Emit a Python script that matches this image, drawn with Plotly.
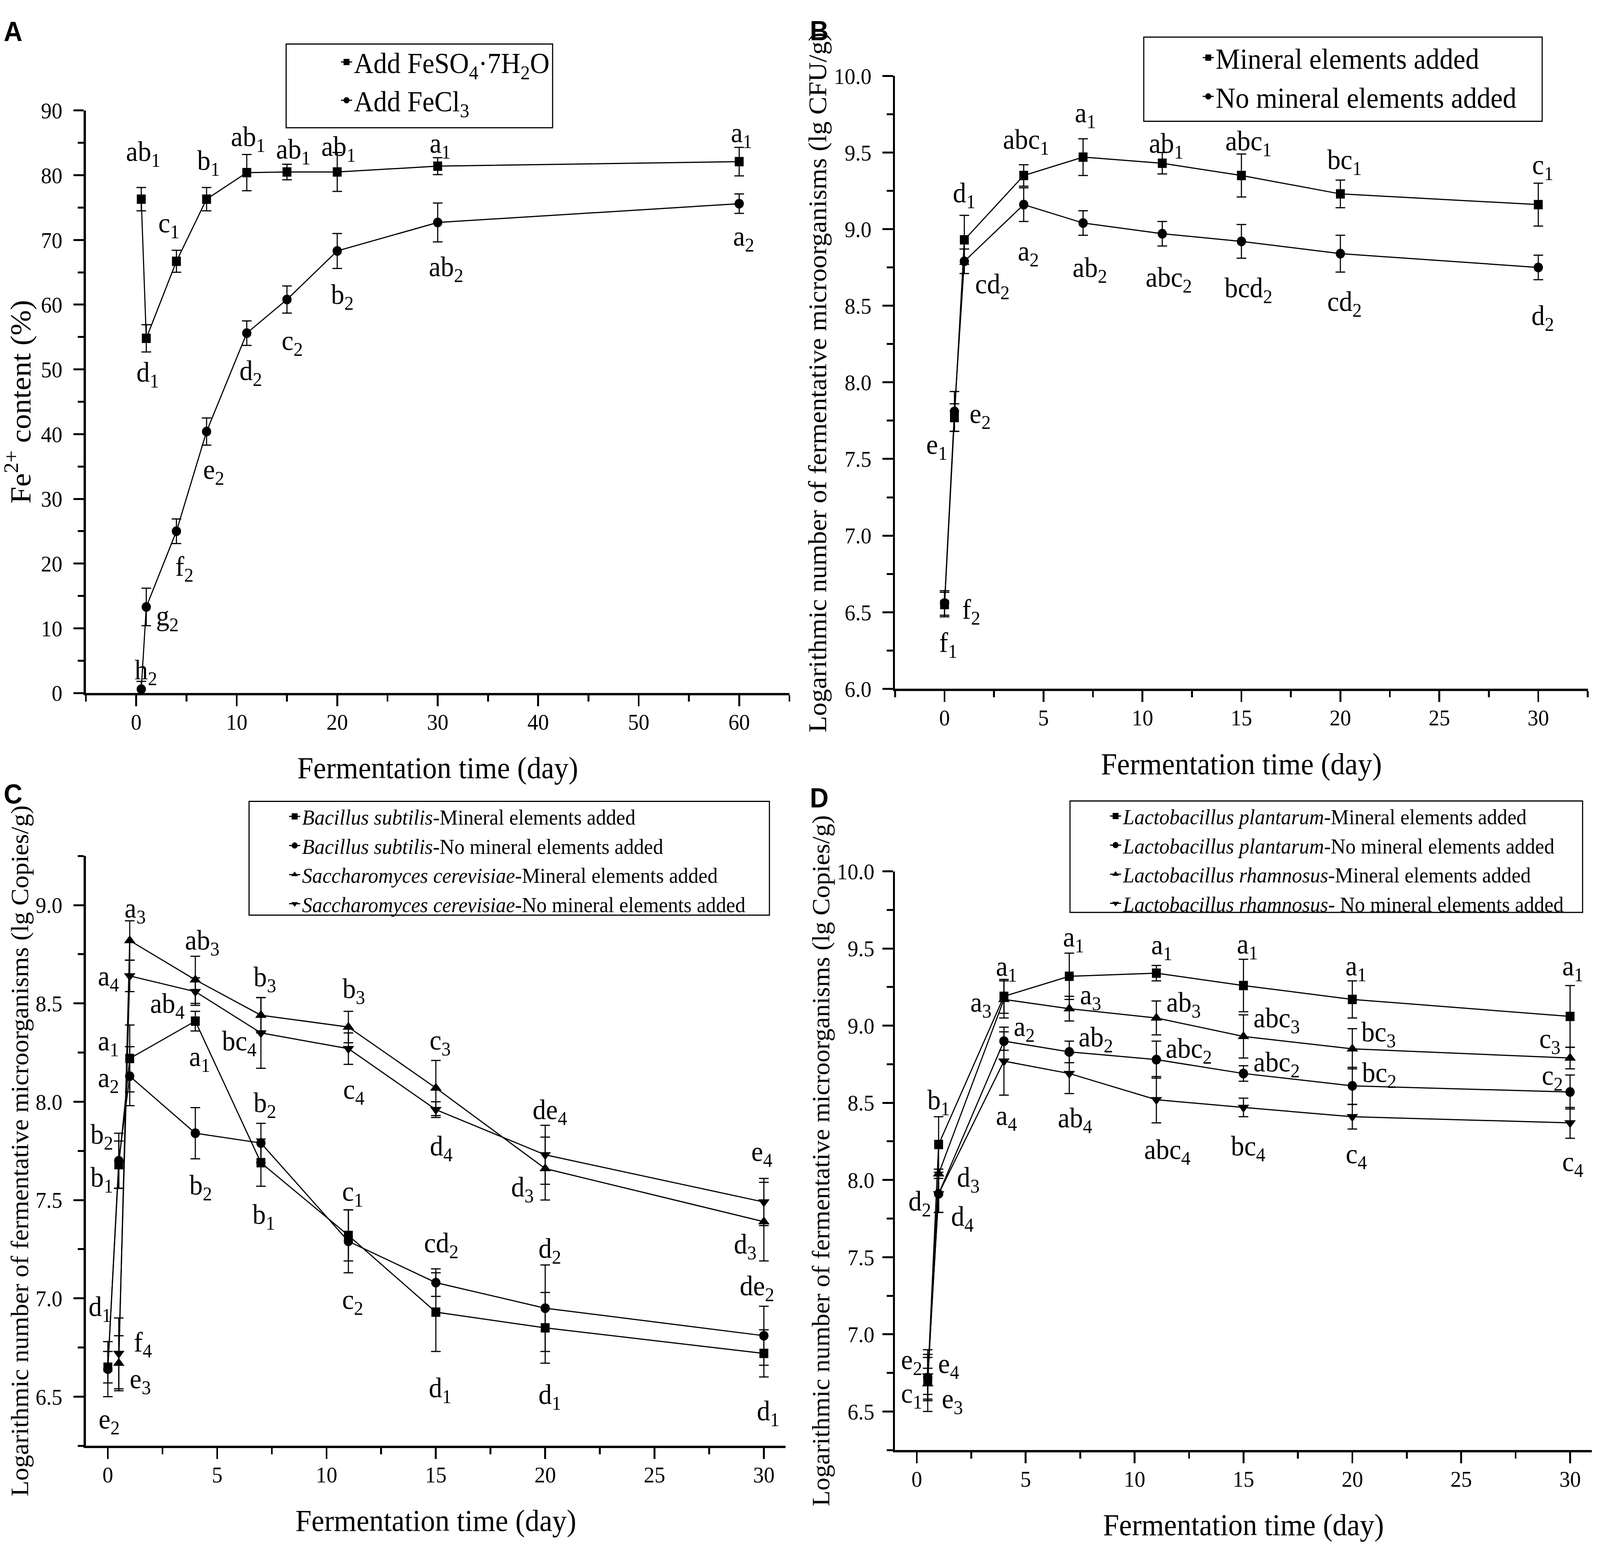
import plotly.graph_objects as go

W, H = 4317, 3991
SERIF = "Liberation Serif"

# ---------------- Panel A : Fe2+ content ----------------
a_days = [0.5, 1, 4, 7, 11, 15, 20, 30, 60]
a_feso4 = [76.3, 54.8, 66.7, 76.3, 80.4, 80.5, 80.5, 81.4, 82.1]
a_feso4_err = [1.8, 2.1, 1.7, 1.8, 2.8, 1.2, 3.0, 1.3, 2.2]
a_feso4_lab = ["ab1", "d1", "c1", "b1", "ab1", "ab1", "ab1", "a1", "a1"]
a_fecl3 = [0.6, 13.3, 25.0, 40.4, 55.6, 60.8, 68.3, 72.7, 75.6]
a_fecl3_err = [1.2, 2.9, 1.9, 2.1, 1.9, 2.1, 2.7, 3.0, 1.5]
a_fecl3_lab = ["h2", "g2", "f2", "e2", "d2", "c2", "b2", "ab2", "a2"]

# ---------------- Panel B : total microorganisms ----------------
b_days = [0, 0.5, 1, 4, 7, 11, 15, 20, 30]
b_min = [6.55, 7.77, 8.93, 9.35, 9.47, 9.43, 9.35, 9.23, 9.16]
b_min_err = [0.08, 0.09, 0.16, 0.07, 0.12, 0.07, 0.14, 0.09, 0.14]
b_min_lab = ["f1", "e1", "d1", "abc1", "a1", "ab1", "abc1", "bc1", "c1"]
b_nomin = [6.56, 7.81, 8.79, 9.16, 9.04, 8.97, 8.92, 8.84, 8.75]
b_nomin_err = [0.08, 0.13, 0.08, 0.11, 0.08, 0.08, 0.11, 0.12, 0.08]
b_nomin_lab = ["f2", "e2", "cd2", "a2", "ab2", "abc2", "bcd2", "cd2", "d2"]

# ---------------- Panel C : B. subtilis / S. cerevisiae ----------------
c_days_bs = [0, 0.5, 1, 4, 7, 11, 15, 20, 30]
c_bs_min = [6.65, 7.68, 8.22, 8.41, 7.69, 7.32, 6.93, 6.85, 6.72]
c_bs_min_err = [0.08, 0.12, 0.17, 0.05, 0.12, 0.13, 0.20, 0.18, 0.12]
c_bs_min_lab = ["d1", "b1", "a1", "a1", "b1", "c1", "d1", "d1", "d1"]
c_bs_nomin = [6.64, 7.70, 8.13, 7.84, 7.79, 7.29, 7.08, 6.95, 6.81]
c_bs_nomin_err = [0.14, 0.14, 0.15, 0.13, 0.10, 0.16, 0.07, 0.22, 0.15]
c_bs_nomin_lab = ["e2", "b2", "a2", "b2", "b2", "c2", "cd2", "d2", "de2"]
c_days_sc = [0.5, 1, 4, 7, 11, 15, 20, 30]
c_sc_min = [6.67, 8.82, 8.62, 8.44, 8.38, 8.07, 7.66, 7.39]
c_sc_min_err = [0.14, 0.10, 0.12, 0.09, 0.08, 0.14, 0.16, 0.20]
c_sc_min_lab = ["e3", "a3", "ab3", "b3", "b3", "c3", "d3", "d3"]
c_sc_nomin = [6.72, 8.64, 8.56, 8.35, 8.27, 7.96, 7.73, 7.49]
c_sc_nomin_err = [0.18, 0.08, 0.07, 0.18, 0.08, 0.04, 0.15, 0.12]
c_sc_nomin_lab = ["f4", "a4", "ab4", "bc4", "c4", "d4", "de4", "e4"]

# ---------------- Panel D : L. plantarum / L. rhamnosus ----------------
d_days = [0.5, 1, 4, 7, 11, 15, 20, 30]
d_lp_min = [6.70, 8.23, 9.19, 9.32, 9.34, 9.26, 9.17, 9.06]
d_lp_min_err = [0.20, 0.18, 0.11, 0.15, 0.05, 0.17, 0.12, 0.20]
d_lp_min_lab = ["c1", "b1", "a1", "a1", "a1", "a1", "a1", "a1"]
d_lp_nomin = [6.72, 7.91, 8.90, 8.83, 8.78, 8.69, 8.61, 8.57]
d_lp_nomin_err = [0.15, 0.12, 0.06, 0.07, 0.12, 0.05, 0.12, 0.11]
d_lp_nomin_lab = ["e2", "d2", "a2", "ab2", "abc2", "abc2", "bc2", "c2"]
d_lr_min = [6.68, 8.04, 9.17, 9.11, 9.05, 8.93, 8.85, 8.79]
d_lr_min_err = [0.10, 0.03, 0.12, 0.08, 0.11, 0.14, 0.13, 0.07]
d_lr_min_lab = ["e3", "d3", "a3", "a3", "ab3", "abc3", "bc3", "c3"]
d_lr_nomin = [6.73, 7.91, 8.77, 8.69, 8.52, 8.47, 8.41, 8.37]
d_lr_nomin_err = [0.12, 0.12, 0.22, 0.13, 0.15, 0.06, 0.08, 0.10]
d_lr_nomin_lab = ["e4", "d4", "a4", "ab4", "abc4", "bc4", "c4", "c4"]

# ---------------- label offsets (pixels: dx right, dy down) ----------------
OFF_A_FESO4 = [(5, -117), (4, 92), (-21, -93), (5, -94), (4, -87), (17, -53), (4, -60), (6, -53), (6, -69)]
OFF_A_FECL3 = [(12, -44), (57, 28), (21, 95), (19, 102), (11, 101), (14, 110), (14, 117), (22, 118), (12, 89)]
OFF_B_MIN = [(10, 102), (-48, 74), (0, -115), (6, -87), (6, -108), (11, -46), (19, -83), (11, -82), (12, -97)]
OFF_B_NOMIN = [(72, 21), (69, 11), (76, 63), (12, 124), (18, 119), (18, 117), (19, 124), (11, 128), (12, 128)]
OFF_C_BS_MIN = [(-22, -150), (-46, 38), (-58, -40), (11, 96), (7, 138), (11, -108), (11, 199), (12, 176), (11, 152)]
OFF_C_BS_NOMIN = [(3, 133), (-46, -62), (-58, 9), (14, 138), (10, -98), (11, 154), (14, -96), (12, -148), (-19, -122)]
OFF_C_SC_MIN = [(58, 45), (14, -78), (18, -96), (10, -93), (14, -93), (11, -117), (-62, 52), (-51, 63)]
OFF_C_SC_NOMIN = [(65, -24), (-58, 6), (-76, 35), (-59, 26), (14, 109), (14, 98), (12, -110), (-6, -124)]
OFF_D_LP_MIN = [(-44, 38), (0, -109), (7, -72), (11, -95), (14, -67), (10, -101), (10, -80), (7, -124)]
OFF_D_LP_NOMIN = [(-44, -40), (-51, 24), (55, -32), (71, -33), (87, -24), (89, -24), (73, -29), (-48, -38)]
OFF_D_LR_MIN = [(66, 44), (80, 14), (-62, 13), (57, -30), (73, -35), (89, -42), (71, -38), (-55, -45)]
OFF_D_LR_NOMIN = [(56, -26), (64, 63), (7, 144), (15, 119), (29, 133), (12, 104), (11, 100), (7, 104)]


def sub_label(s):
    i = len(s)
    while i > 0 and s[i - 1].isdigit():
        i -= 1
    return f"{s[:i]}<sub>{s[i:]}</sub>"


def px(x, y):
    return x / W, 1 - y / H


fig = go.Figure()
annotations = []

SYMBOL_SIZE = {"square": 24, "circle": 25, "triangle-up": 27, "triangle-down": 27}


def add_series(name, xs, ys, errs, labels, offsets, symbol, xa, ya, legend):
    fig.add_trace(go.Scatter(
        x=xs, y=ys, name=name, mode="lines+markers",
        xaxis=xa, yaxis=ya, legend=legend,
        line=dict(color="black", width=3),
        marker=dict(symbol=symbol, size=SYMBOL_SIZE[symbol], color="black"),
        error_y=dict(type="data", array=errs, visible=True, color="black", thickness=3, width=13),
        cliponaxis=False,
    ))
    for xv, yv, lab, (dx, dy) in zip(xs, ys, labels, offsets):
        annotations.append(dict(
            x=xv, y=yv, xref=xa, yref=ya, text=sub_label(lab), showarrow=False,
            xanchor="center", yanchor="middle",
            xshift=dx, yshift=-dy, font=dict(family=SERIF, size=72, color="black"),
        ))


# Panel A
add_series("Add FeSO<sub>4</sub>·7H<sub>2</sub>O", a_days, a_feso4, a_feso4_err, a_feso4_lab, OFF_A_FESO4, "square", "x", "y", "legend")
add_series("Add FeCl<sub>3</sub>", a_days, a_fecl3, a_fecl3_err, a_fecl3_lab, OFF_A_FECL3, "circle", "x", "y", "legend")
# Panel B
add_series("Mineral elements added", b_days, b_min, b_min_err, b_min_lab, OFF_B_MIN, "square", "x2", "y2", "legend2")
add_series("No mineral elements added", b_days, b_nomin, b_nomin_err, b_nomin_lab, OFF_B_NOMIN, "circle", "x2", "y2", "legend2")
# Panel C
add_series("<i>Bacillus subtilis</i>-Mineral elements added", c_days_bs, c_bs_min, c_bs_min_err, c_bs_min_lab, OFF_C_BS_MIN, "square", "x3", "y3", "legend3")
add_series("<i>Bacillus subtilis</i>-No mineral elements added", c_days_bs, c_bs_nomin, c_bs_nomin_err, c_bs_nomin_lab, OFF_C_BS_NOMIN, "circle", "x3", "y3", "legend3")
add_series("<i>Saccharomyces cerevisiae</i>-Mineral elements added", c_days_sc, c_sc_min, c_sc_min_err, c_sc_min_lab, OFF_C_SC_MIN, "triangle-up", "x3", "y3", "legend3")
add_series("<i>Saccharomyces cerevisiae</i>-No mineral elements added", c_days_sc, c_sc_nomin, c_sc_nomin_err, c_sc_nomin_lab, OFF_C_SC_NOMIN, "triangle-down", "x3", "y3", "legend3")
# Panel D
add_series("<i>Lactobacillus plantarum</i>-Mineral elements added", d_days, d_lp_min, d_lp_min_err, d_lp_min_lab, OFF_D_LP_MIN, "square", "x4", "y4", "legend4")
add_series("<i>Lactobacillus plantarum</i>-No mineral elements added", d_days, d_lp_nomin, d_lp_nomin_err, d_lp_nomin_lab, OFF_D_LP_NOMIN, "circle", "x4", "y4", "legend4")
add_series("<i>Lactobacillus rhamnosus</i>-Mineral elements added", d_days, d_lr_min, d_lr_min_err, d_lr_min_lab, OFF_D_LR_MIN, "triangle-up", "x4", "y4", "legend4")
add_series("<i>Lactobacillus rhamnosus</i>- No mineral elements added", d_days, d_lr_nomin, d_lr_nomin_err, d_lr_nomin_lab, OFF_D_LR_NOMIN, "triangle-down", "x4", "y4", "legend4")


def axis(domain, rng, dtick, minor_dtick, anchor, title, title_size, standoff, fmt=None, lab_standoff=0):
    d = dict(
        domain=domain, range=rng, anchor=anchor, autorange=False,
        showline=True, linecolor="black", linewidth=6, mirror=False,
        ticks="outside", ticklen=28, tickwidth=5, tickcolor="black",
        tick0=0, dtick=dtick, showgrid=False, zeroline=False,
        tickfont=dict(family=SERIF, size=58, color="black"),
        ticklabelstandoff=lab_standoff,
        minor=dict(ticks="outside", ticklen=16, tickwidth=5, tickcolor="black",
                   tick0=0, dtick=minor_dtick, showgrid=False),
        title=dict(text=title, font=dict(family=SERIF, size=title_size, color="black"), standoff=standoff),
    )
    if fmt:
        d["tickformat"] = fmt
    return d


XT = "Fermentation time (day)"
YT_B = "Logarithmic number of fermentative microorganisms (lg CFU/g)"
YT_CD = "Logarithmic number of fermentative microorganisms (lg Copies/g)"

XS = -10   # x tick label standoff
XTS = 60   # x title standoff

layout = dict(
    width=W, height=H, margin=dict(l=0, r=0, t=0, b=0),
    paper_bgcolor="white", plot_bgcolor="white", showlegend=True,
    xaxis=axis([232 / W, 2130 / W], [-5, 65], 10, 5, "y", XT, 78, XTS, lab_standoff=XS),
    yaxis=axis([1 - 1771 / H, 1 - 255 / H], [0, 90], 10, 5, "x", "Fe<sup>2+</sup> content (%)", 78, 22, lab_standoff=18),
    xaxis2=axis([2415 / W, 4284 / W], [-2.5, 32.5], 5, 2.5, "y2", XT, 78, XTS, lab_standoff=XS),
    yaxis2=axis([1 - 1760 / H, 1 - 165 / H], [6.0, 10.0], 0.5, 0.25, "x2", YT_B, 69, 0, ".1f", lab_standoff=18),
    xaxis3=axis([232 / W, 2120 / W], [-1, 31], 5, 2.5, "y3", XT, 78, XTS, lab_standoff=XS),
    yaxis3=axis([1 - 3730 / H, 1 - 2195 / H], [6.25, 9.25], 0.5, 0.25, "x3", YT_CD, 66, 0, ".1f", lab_standoff=18),
    xaxis4=axis([2415 / W, 4295 / W], [-1, 31], 5, 2.5, "y4", XT, 78, XTS, lab_standoff=XS),
    yaxis4=axis([1 - 3741 / H, 1 - 2235 / H], [6.25, 10.0], 0.5, 0.25, "x4", YT_CD, 66, 0, ".1f", lab_standoff=10),
)


def legend_at(x_px, y_px, size):
    lx, ly = px(x_px, y_px)
    return dict(x=lx, y=ly, xanchor="left", yanchor="top", bgcolor="rgba(0,0,0,0)",
                borderwidth=0, font=dict(family=SERIF, size=size, color="black"),
                tracegroupgap=0)


layout["legend"] = legend_at(915, 74, 73)
layout["legend2"] = legend_at(3240, 62, 74)
layout["legend3"] = legend_at(775, 2049, 55)
layout["legend4"] = legend_at(2990, 2048, 55)

# legend frames
shapes = []
for (x0, y0, x1, y1) in [(772, 82, 1491, 300), (3086, 64, 4161, 283), (672, 2053, 2076, 2349), (2887, 2052, 4270, 2342)]:
    px0, py0 = px(x0, y0)
    px1, py1 = px(x1, y1)
    shapes.append(dict(type="rect", xref="paper", yref="paper", x0=px0, y0=py1, x1=px1, y1=py0,
                       line=dict(color="black", width=3), fillcolor="rgba(0,0,0,0)", layer="below"))
layout["shapes"] = shapes

# panel letters
for letter, (cx, cy) in zip(["A", "B", "C", "D"], [(35, 50), (2210, 48), (35, 2034), (2210, 2044)]):
    lx, ly = px(cx, cy)
    annotations.append(dict(x=lx, y=ly, xref="paper", yref="paper", text=f"<b>{letter}</b>", showarrow=False,
                            xanchor="center", yanchor="middle",
                            font=dict(family="Liberation Sans", size=70, color="black")))

layout["annotations"] = annotations
fig.update_layout(**layout)

# Fit the fixed-size figure to whatever viewport the page is shown in.
FIT_SCRIPT = """
(function(){
  var gd = document.getElementById('{plot_id}');
  function fit(){
    document.documentElement.style.margin = '0';
    document.documentElement.style.overflow = 'hidden';
    document.body.style.margin = '0';
    document.body.style.overflow = 'hidden';
    var sx = window.innerWidth / %d, sy = window.innerHeight / %d;
    gd.style.transformOrigin = '0 0';
    gd.style.transform = 'scale(' + sx + ',' + sy + ')';
  }
  fit();
  window.addEventListener('load', fit);
  window.addEventListener('resize', fit);
})();
""" % (W, H)

fig.write_html("out.html", post_script=FIT_SCRIPT, config={"displayModeBar": False})
